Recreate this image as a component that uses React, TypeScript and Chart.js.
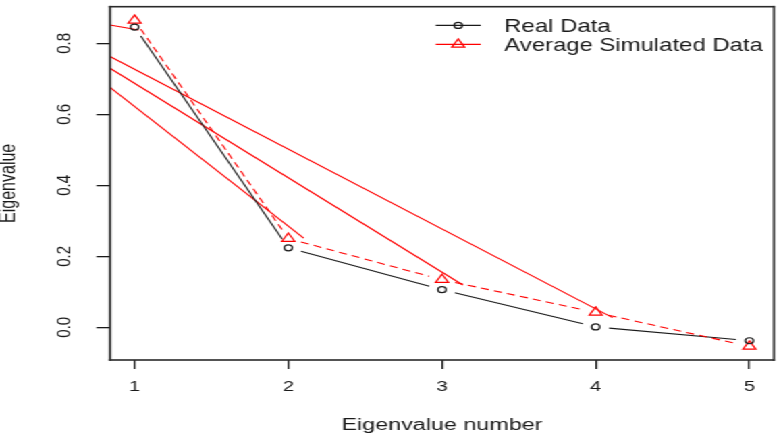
import React, { useEffect, useRef } from 'react';
import { Chart, registerables } from 'chart.js';

Chart.register(...registerables);

// ---- data ----
const eigenNumbers = [1, 2, 3, 4, 5];
const realData = [0.846, 0.224, 0.106, 0.001, -0.038];
const simulatedData = [0.865, 0.25, 0.134, 0.042, -0.054];
const seriesLabels = ['Real Data', 'Average Simulated Data'];
const xTicks = [1, 2, 3, 4, 5];
const yTicks = [0, 0.2, 0.4, 0.6, 0.8];
const xRange = [0.84, 5.16];
const yRange = [-0.0923, 0.9035];
// red guide lines (start/end points)
const guideStartX = [0.84, 0.84, 0.84, 0.84];
const guideStartY = [0.852, 0.763, 0.73, 0.676];
const guideEndX = [1.026, 4.11, 3.136, 2.1];
const guideEndY = [0.838, 0.027, 0.119, 0.251];
const xTitle = 'Eigenvalue number';
const yTitle = 'Eigenvalue';

// ---- layout / style ----
const W = 580;
const H = 436;
const SX = 783 / W;
const FONT = "'Liberation Sans', Arial, Helvetica, sans-serif";
const INK = '#1a1a1a';
const RED = '#ff0000';

const gapLinePlugin = {
  id: 'gapLines',
  afterDatasetsDraw(chart: any) {
    const { ctx, chartArea: a } = chart;
    ctx.save();
    try {
      ctx.beginPath();
      ctx.rect(a.left, a.top, a.right - a.left, a.bottom - a.top);
      ctx.clip();
      chart.data.datasets.forEach((ds: any, i: number) => {
        if (!ds.gapLine) return;
        const pts = chart.getDatasetMeta(i).data;
        ctx.strokeStyle = ds.borderColor;
        ctx.lineWidth = ds.borderWidth;
        for (let k = 0; k < pts.length - 1; k++) {
          const p = pts[k];
          const q = pts[k + 1];
          const dx = q.x - p.x;
          const dy = q.y - p.y;
          const len = Math.hypot(dx, dy);
          const g = ds.gapLine;
          if (len <= 2 * g) continue;
          const ux = dx / len;
          const uy = dy / len;
          ctx.setLineDash(ds.gapDash || []);
          ctx.lineDashOffset = 0;
          ctx.beginPath();
          ctx.moveTo(p.x + ux * g, p.y + uy * g);
          ctx.lineTo(q.x - ux * g, q.y - uy * g);
          ctx.stroke();
        }
      });
    } finally {
      ctx.restore();
    }
  },
};

const legendPlugin = {
  id: 'rLegend',
  afterDraw(chart: any) {
    const { ctx, chartArea: a } = chart;
    const items = chart.data.datasets.filter((d: any) => d.gapLine);
    ctx.save();
    ctx.font = `17.7px ${FONT}`;
    const maxW = Math.max(...items.map((d: any) => ctx.measureText(d.label).width));
    const textX = a.right - 8.3 - maxW;
    items.forEach((d: any, i: number) => {
      const y = a.top + 18.7 + i * 19;
      ctx.setLineDash([]);
      ctx.strokeStyle = d.borderColor;
      ctx.lineWidth = 1.2;
      ctx.beginPath();
      ctx.moveTo(textX - 50.9, y);
      ctx.lineTo(textX - 17.5, y);
      ctx.stroke();
      const cx = textX - 34.2;
      ctx.beginPath();
      if (d.pointStyle === 'triangle') {
        const r = d.pointRadius;
        let rad = 0;
        ctx.moveTo(cx + Math.sin(rad) * r, y - Math.cos(rad) * r);
        rad += (2 * Math.PI) / 3;
        ctx.lineTo(cx + Math.sin(rad) * r, y - Math.cos(rad) * r);
        rad += (2 * Math.PI) / 3;
        ctx.lineTo(cx + Math.sin(rad) * r, y - Math.cos(rad) * r);
        ctx.closePath();
      } else {
        ctx.arc(cx, y, d.pointRadius, 0, Math.PI * 2);
      }
      ctx.lineWidth = d.pointBorderWidth;
      ctx.stroke();
      ctx.fillStyle = INK;
      ctx.textAlign = 'left';
      ctx.textBaseline = 'middle';
      ctx.fillText(d.label, textX, y + 1.4);
    });
    ctx.restore();
  },
};

const boxPlugin = {
  id: 'plotBox',
  afterDraw(chart: any) {
    const { ctx, chartArea: a } = chart;
    const w = 1.6;
    ctx.save();
    ctx.fillStyle = '#2a2a2a';
    ctx.fillRect(a.left - w / 2, a.top - w / 2, a.right - a.left + w, w);
    ctx.fillRect(a.left - w / 2, a.bottom - w / 2, a.right - a.left + w, w);
    ctx.fillRect(a.left - w / 2, a.top - w / 2, w, a.bottom - a.top + w);
    ctx.fillRect(a.right - w / 2, a.top - w / 2, w, a.bottom - a.top + w);
    ctx.restore();
  },
};

const zeroPad = (s: any) => {
  s.paddingLeft = 0;
  s.paddingRight = 0;
  s.paddingTop = 0;
  s.paddingBottom = 0;
};

export default function App() {
  const ref = useRef<HTMLCanvasElement>(null);

  useEffect(() => {
    const guides = guideStartX.map((sx, i) => ({
      label: `guide${i + 1}`,
      data: [
        { x: sx, y: guideStartY[i] },
        { x: guideEndX[i], y: guideEndY[i] },
      ],
      showLine: true,
      borderColor: RED,
      borderWidth: 1.1,
      pointRadius: 0,
    }));

    const chart = new Chart(ref.current as HTMLCanvasElement, {
      type: 'scatter',
      data: {
        datasets: [
          {
            label: seriesLabels[0],
            data: eigenNumbers.map((x, i) => ({ x, y: realData[i] })),
            showLine: false,
            borderColor: INK,
            borderWidth: 1.1,
            pointStyle: 'circle',
            pointRadius: 3,
            pointBorderWidth: 1.2,
            pointBorderColor: INK,
            pointBackgroundColor: 'rgba(0,0,0,0)',
            gapLine: 10,
            gapDash: [],
          } as any,
          {
            label: seriesLabels[1],
            data: eigenNumbers.map((x, i) => ({ x, y: simulatedData[i] })),
            showLine: false,
            borderColor: RED,
            borderWidth: 1.1,
            pointStyle: 'triangle',
            pointRadius: 5.5,
            pointBorderWidth: 1.2,
            pointBorderColor: RED,
            pointBackgroundColor: 'rgba(0,0,0,0)',
            gapLine: 10,
            gapDash: [6, 4],
          } as any,
          ...guides,
        ],
      },
      options: {
        animation: false,
        responsive: true,
        maintainAspectRatio: false,
        events: [],
        layout: { padding: { top: 4, right: W - 573.3, bottom: 0, left: 0 } },
        plugins: {
          legend: { display: false },
          tooltip: { enabled: false },
        },
        scales: {
          x: {
            type: 'linear',
            position: 'bottom',
            min: xRange[0],
            max: xRange[1],
            afterFit: (s: any) => {
              s.height = 76;
              zeroPad(s);
            },
            afterBuildTicks: (s: any) => {
              s.ticks = xTicks.map((v) => ({ value: v }));
            },
            grid: {
              display: true,
              drawOnChartArea: false,
              drawTicks: true,
              tickLength: 9,
              lineWidth: 1.3,
              tickWidth: 1.3,
              tickColor: INK,
              color: INK,
            },
            border: { display: false },
            ticks: {
              autoSkip: false,
              padding: 9.1,
              minRotation: 0,
              maxRotation: 0,
              color: INK,
              font: { family: FONT, size: 15 },
              callback: (v: any) => String(v),
            },
            title: {
              display: true,
              text: xTitle,
              color: INK,
              padding: 0,
              font: { family: FONT, size: 17.3, lineHeight: 1.2 },
            },
          },
          y: {
            type: 'linear',
            position: 'left',
            min: yRange[0],
            max: yRange[1],
            afterFit: (s: any) => {
              s.width = 81.5;
              zeroPad(s);
            },
            afterBuildTicks: (s: any) => {
              s.ticks = yTicks.map((v) => ({ value: v }));
            },
            grid: {
              display: true,
              drawOnChartArea: false,
              drawTicks: true,
              tickLength: 10,
              lineWidth: 1.3,
              tickWidth: 1.3,
              tickColor: INK,
              color: INK,
            },
            border: { display: false },
            ticks: {
              autoSkip: false,
              padding: 13.4,
              minRotation: 90,
              maxRotation: 90,
              crossAlign: 'center',
              color: INK,
              font: { family: FONT, size: 15 },
              callback: (v: any) => Number(v).toFixed(1),
            },
            title: {
              display: true,
              text: yTitle,
              color: INK,
              padding: 0,
              font: { family: FONT, size: 16, lineHeight: 0.875 },
            },
          },
        },
      },
      plugins: [gapLinePlugin, legendPlugin, boxPlugin],
    } as any);

    return () => chart.destroy();
  }, []);

  return (
    <div
      style={{
        position: 'fixed',
        left: 0,
        top: 0,
        width: W,
        height: H,
        transform: `scaleX(${SX})`,
        transformOrigin: '0 0',
        background: '#fff',
      }}
    >
      <canvas ref={ref} />
    </div>
  );
}
